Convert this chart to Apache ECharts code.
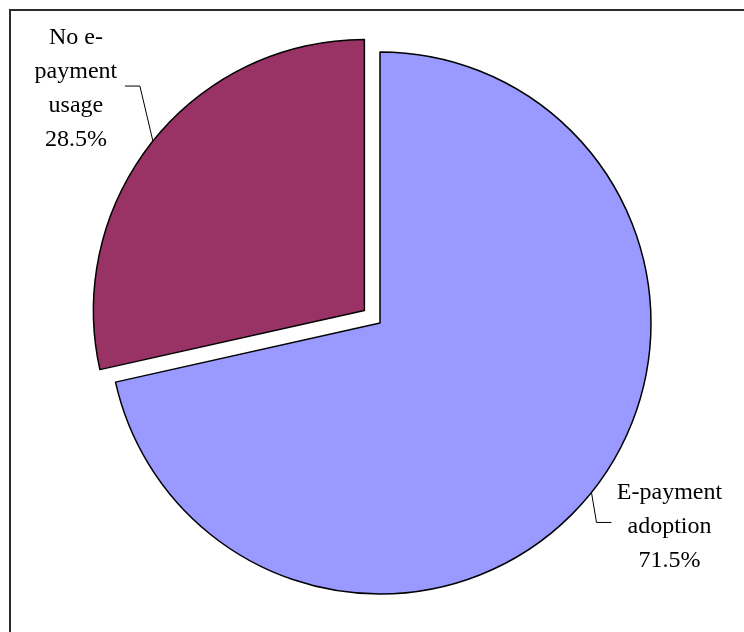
<!DOCTYPE html>
<html>
<head>
<meta charset="utf-8">
<style>
  html, body { margin: 0; padding: 0; background: #ffffff; }
  #chart { width: 744px; height: 632px; }
</style>
<script src="https://cdn.jsdelivr.net/npm/echarts@6/dist/echarts.min.js"></script>
</head>
<body>
<div id="chart"></div>
<script>
// Share of respondents by e-payment status (percent)
const categories = ['E-payment adoption', 'No e-payment usage'];
const labelTexts = ['E-payment\nadoption', 'No e-\npayment\nusage'];
const values = [71.5, 28.5];
const colors = ['#9999FF', '#993366'];

// Pie geometry
const pieCenter = [380, 323];
const pieRadius = 271;
const startAngle = 90;
const explodeIndex = 1;     // slice pulled out of the pie
const explodeDistance = 20;

// Leader-line bends and label anchors, relative to each slice's attach point
const leader = [
  { bend: [5, 30], run: [15, 0], text: [58, 4] },
  { bend: [-13, -55], run: [-15, 0], text: [-49, 3] }
];

const total = values.reduce(function (a, b) { return a + b; }, 0);

// Mid angle (degrees, clockwise from startAngle) of a slice
function midAngle(idx) {
  let before = 0;
  for (let i = 0; i < idx; i++) before += values[i];
  return startAngle - 360 * (before + values[idx] / 2) / total;
}

// Center of the exploded slice: shifted outward along its mid angle
const a = midAngle(explodeIndex) * Math.PI / 180;
const explodedCenter = [
  pieCenter[0] + explodeDistance * Math.cos(a),
  pieCenter[1] - explodeDistance * Math.sin(a)
];

const labelStyle = {
  show: true,
  position: 'outside',
  fontFamily: '"Liberation Serif", "Times New Roman", serif',
  fontSize: 24,
  lineHeight: 34,
  color: '#000000',
  align: 'center',
  formatter: function (p) {
    return labelTexts[p.dataIndex] + '\n' + p.value.toFixed(1) + '%';
  }
};

function labelLayout(params) {
  const pts = params.labelLinePoints;
  const L = leader[params.dataIndex];
  if (!pts) return {};
  const p0 = pts[0];
  const p1 = [p0[0] + L.bend[0], p0[1] + L.bend[1]];
  const p2 = [p1[0] + L.run[0], p1[1] + L.run[1]];
  return {
    x: p2[0] + L.text[0],
    y: p2[1] + L.text[1],
    align: 'center',
    verticalAlign: 'middle',
    labelLinePoints: [p0, p1, p2]
  };
}

// One pie layer per position: each layer shows only the slices that sit at its center
function pieLayer(center, visibleTest) {
  return {
    type: 'pie',
    center: center,
    radius: [0, pieRadius],
    startAngle: startAngle,
    clockwise: true,
    avoidLabelOverlap: false,
    silent: true,
    emphasis: { disabled: true },
    label: labelStyle,
    labelLine: {
      show: true,
      length: 20,
      length2: 15,
      lineStyle: { color: '#000000', width: 1 }
    },
    labelLayout: labelLayout,
    data: categories.map(function (name, i) {
      const visible = visibleTest(i);
      return {
        name: name,
        value: values[i],
        itemStyle: visible
          ? { color: colors[i], borderColor: '#000000', borderWidth: 1.5 }
          : { color: 'transparent', borderWidth: 0 },
        label: { show: visible },
        labelLine: { show: visible }
      };
    })
  };
}

const chart = echarts.init(document.getElementById('chart'), null, { renderer: 'canvas' });

chart.setOption({
  animation: false,
  backgroundColor: '#ffffff',
  graphic: [{
    type: 'rect',
    shape: { x: 10, y: 10, width: 900, height: 800 },
    style: { fill: 'none', stroke: '#2b2b2b', lineWidth: 2 },
    silent: true
  }],
  series: [
    pieLayer(pieCenter, function (i) { return i !== explodeIndex; }),
    pieLayer(explodedCenter, function (i) { return i === explodeIndex; })
  ]
});
</script>
</body>
</html>
